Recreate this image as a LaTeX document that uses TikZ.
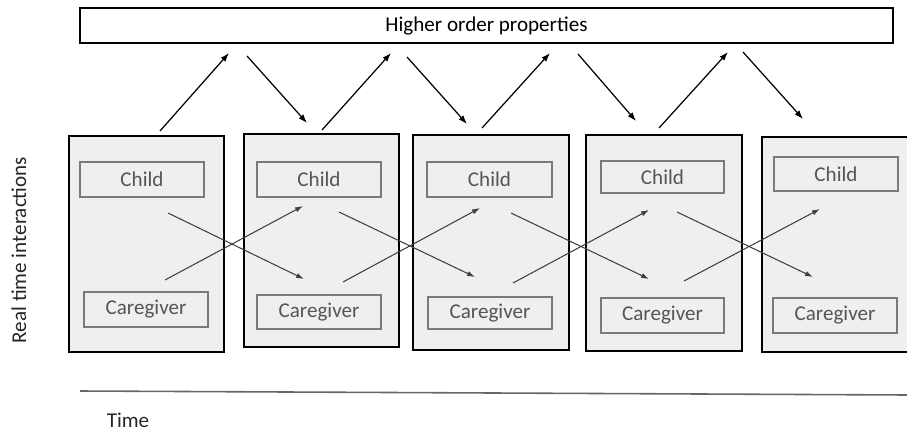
\documentclass[tikz,border=0pt]{standalone}
\usepackage{fontspec}
\setmainfont{Carlito}
\usetikzlibrary{arrows.meta, positioning, fit}
\definecolor{framefill}{HTML}{EFEFEF}
\definecolor{boxline}{HTML}{7A7A7A}
\definecolor{labeltext}{HTML}{555555}

\begin{document}
\begin{tikzpicture}[x=0.02cm, y=-0.02cm,
    every label/.style={font=\fontsize{12}{14}\selectfont},
    frame/.style={draw=black, line width=1.5pt, fill=framefill, inner sep=0pt},
    agent/.style={draw=boxline, line width=0.7pt, fill=framefill, inner sep=0pt,
        label={[text=labeltext]center:#1}},
    link/.style={-{Latex[length=5pt, width=3.5pt]}, line width=0.7pt},
    cross/.style={-{Latex[length=4.5pt, width=3pt]}, line width=0.6pt, draw=black!75}]

\clip (0,0) rectangle (907,433);

% Higher order level
\node[draw=black, line width=1.5pt, fill=white, inner sep=0pt,
    fit={(80,8) (893,43)}, label={center:Higher order properties}] (higher) {};

% Real time frames
\node[frame, fit={(69,136) (224,352)}] (frame1) {};
\node[frame, fit={(244,134) (399,347)}] (frame2) {};
\node[frame, fit={(413,135) (569,350)}] (frame3) {};
\node[frame, fit={(586,135) (742,351)}] (frame4) {};
\node[frame, fit={(762,137) (930,352)}] (frame5) {};

% Child and caregiver in each frame
\node[agent=Child, fit={(80,162) (204,197)}] (child1) {};
\node[agent=Child, fit={(257,162) (381,197)}] (child2) {};
\node[agent=Child, fit={(427,162) (552,197)}] (child3) {};
\node[agent=Child, fit={(601,161) (724,193)}] (child4) {};
\node[agent=Child, fit={(774,157) (898,191)}] (child5) {};

\node[agent=Caregiver, fit={(84,292) (208,327)}] (care1) {};
\node[agent=Caregiver, fit={(257,295) (381,329)}] (care2) {};
\node[agent=Caregiver, fit={(428,297) (552,329)}] (care3) {};
\node[agent=Caregiver, fit={(601,298) (724,333)}] (care4) {};
\node[agent=Caregiver, fit={(773,298) (897,333)}] (care5) {};

% Arrow ends between frames and higher order level
\coordinate (up1a) at (160,131);  \coordinate (up1b) at (229,53);
\coordinate (up2a) at (322,130);  \coordinate (up2b) at (391,53);
\coordinate (up3a) at (482,128);  \coordinate (up3b) at (550,53);
\coordinate (up4a) at (659,128);  \coordinate (up4b) at (728,52);
\coordinate (dn1a) at (247,56);   \coordinate (dn1b) at (307,123);
\coordinate (dn2a) at (407,57);   \coordinate (dn2b) at (467,124);
\coordinate (dn3a) at (578,54);   \coordinate (dn3b) at (636,121);
\coordinate (dn4a) at (743,52);   \coordinate (dn4b) at (803,119);

\foreach \i in {1,...,4} {
    \draw[link] (up\i a) -- (up\i b);
    \draw[link] (dn\i a) -- (dn\i b);
}

% Arrow ends of the cross links (child -> caregiver, caregiver -> child)
\coordinate (cc1a) at (168,213);  \coordinate (cc1b) at (304,279);
\coordinate (cc2a) at (339,212);  \coordinate (cc2b) at (475,277);
\coordinate (cc3a) at (511,213);  \coordinate (cc3b) at (649,279);
\coordinate (cc4a) at (677,212);  \coordinate (cc4b) at (813,277);
\coordinate (gc1a) at (165,280);  \coordinate (gc1b) at (303,206);
\coordinate (gc2a) at (343,282);  \coordinate (gc2b) at (480,208);
\coordinate (gc3a) at (513,283);  \coordinate (gc3b) at (649,210);
\coordinate (gc4a) at (684,281);  \coordinate (gc4b) at (820,209);

\foreach \i in {1,...,4} {
    \draw[cross] (cc\i a) -- (cc\i b);
    \draw[cross] (gc\i a) -- (gc\i b);
}

% Time axis
\coordinate (t0) at (80,391);
\coordinate (t1) at (907,395);
\draw[black!60, line width=0.9pt] (t0) -- (t1);
\node[font=\fontsize{12}{14}\selectfont, text=black!85] (time) at (128,420) {Time};

% Side label
\node[rotate=90, font=\fontsize{12}{14}\selectfont, text=black!85] (realtime) at (19,250) {Real time interactions};

\end{tikzpicture}
\end{document}
